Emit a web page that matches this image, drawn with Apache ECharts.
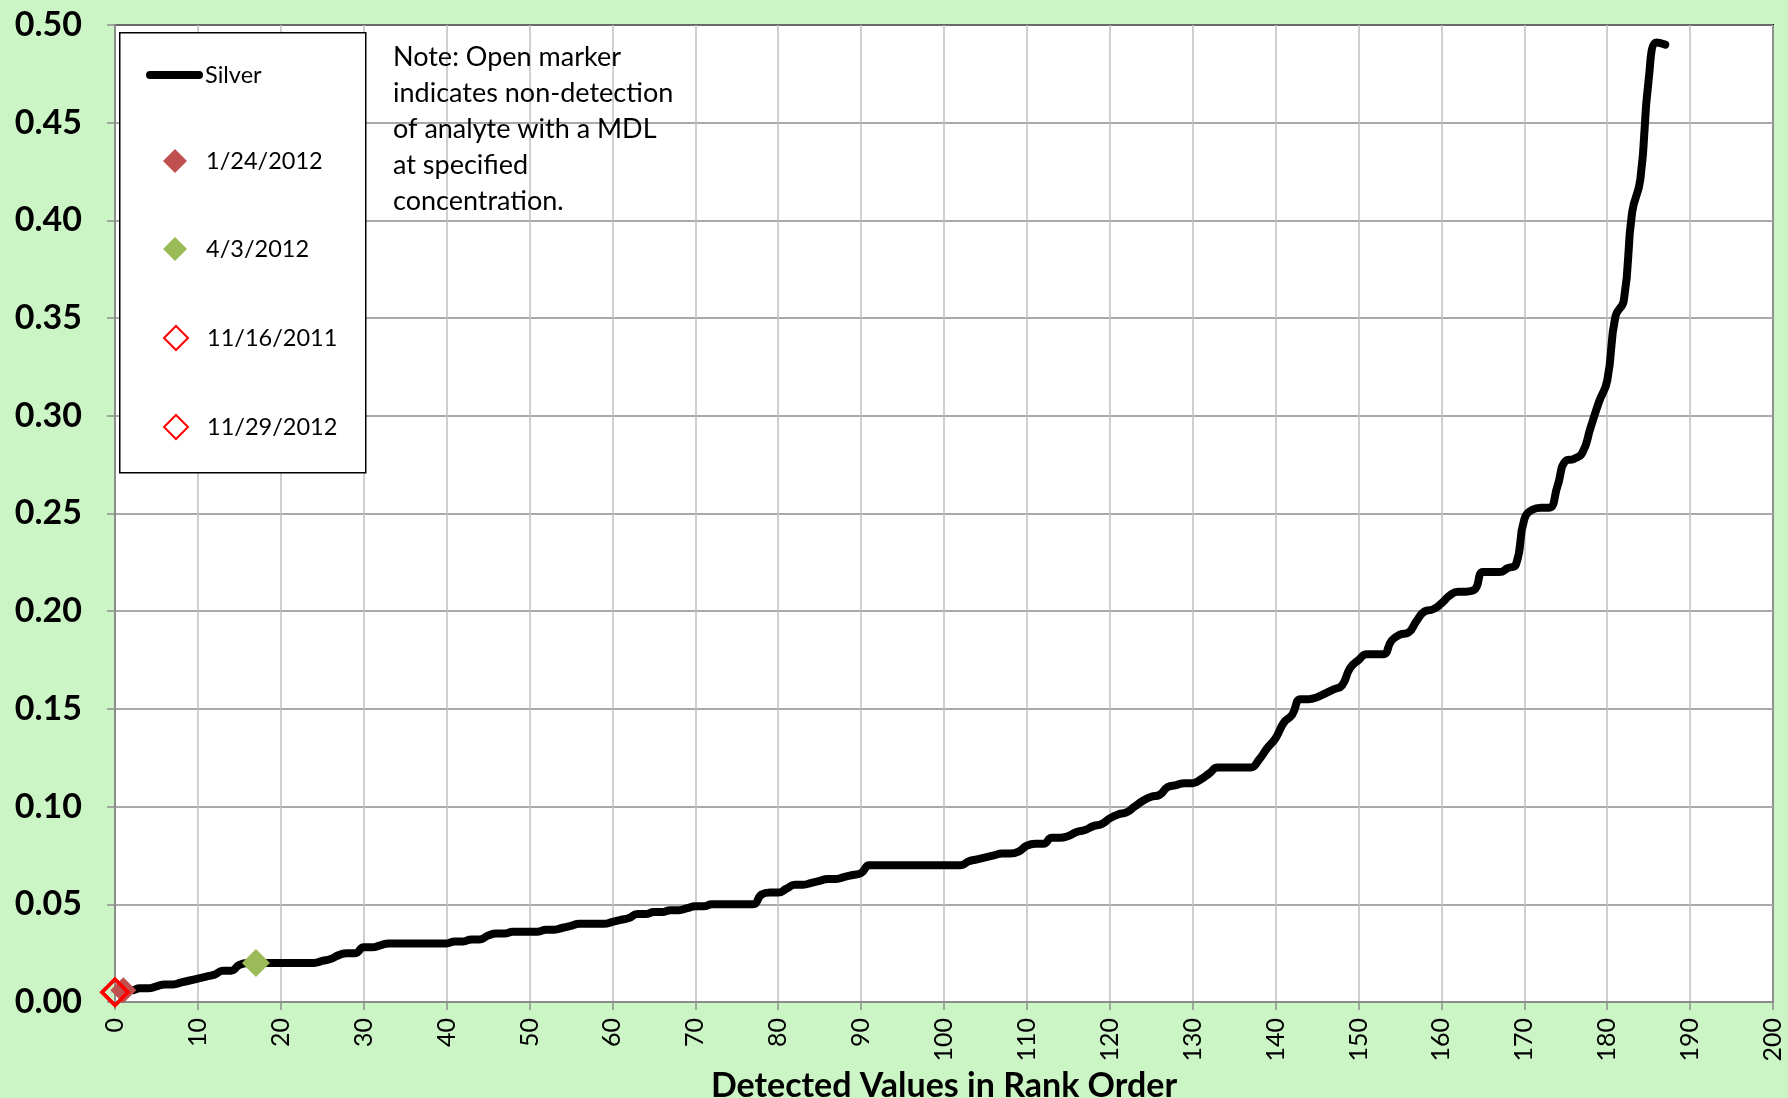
<!DOCTYPE html>
<html>
<head>
<meta charset="utf-8">
<script src="https://cdn.jsdelivr.net/npm/echarts@6/dist/echarts.min.js"></script>
<style>
html,body{margin:0;padding:0;background:#CCF5C6;}
#chart{width:1788px;height:1098px;}
</style>
</head>
<body>
<div id="chart"></div>
<script>
// Silver detected values in rank order (rank 1..187)
const silverValues = [
  0.006,0.006,0.007,0.007,0.008,0.009,0.009,0.010,0.011,0.012,
  0.013,0.014,0.016,0.016,0.019,0.020,0.020,
  0.020,0.020,0.020,0.020,0.020,0.020,0.020,
  0.021,0.022,0.024,0.025,0.025,0.028,0.028,0.029,0.030,
  0.030,0.030,0.030,0.030,0.030,0.030,0.030,
  0.031,0.031,0.032,0.032,0.034,0.035,0.035,0.036,0.036,0.036,
  0.036,0.037,0.037,0.038,0.039,0.040,0.040,0.040,0.040,0.041,
  0.042,0.043,0.045,0.045,0.046,0.046,0.047,0.047,0.048,0.049,
  0.049,0.050,
  0.050,0.050,0.050,0.050,0.050,
  0.055,0.056,0.056,0.058,0.060,0.060,0.061,0.062,0.063,0.063,
  0.064,0.065,0.066,0.070,
  0.070,0.070,0.070,0.070,0.070,0.070,0.070,0.070,0.070,0.070,0.070,
  0.072,0.073,0.074,0.075,0.076,0.076,0.077,0.080,0.081,0.081,
  0.084,0.084,0.085,0.087,0.088,0.090,0.091,0.094,0.096,0.097,
  0.100,0.103,0.105,0.106,0.110,0.111,0.112,0.112,0.114,0.117,
  0.120,0.120,0.120,0.120,0.120,0.124,0.130,0.135,0.143,0.147,
  0.155,0.155,0.156,0.158,0.160,0.162,0.171,0.175,0.178,0.178,
  0.178,0.185,0.188,0.189,0.195,0.200,0.201,0.204,0.208,0.210,
  0.210,0.211,0.220,0.220,0.220,0.222,0.224,0.247,0.252,0.253,
  0.253,0.264,0.277,0.278,0.281,0.294,0.307,0.318,0.351,0.359,
  0.404,0.421,0.472,0.491,0.490
];
const silverRanks = silverValues.map((v, i) => i + 1);

// Individual sampling events [rank, value]
const point_1_24_2012 = [[1, 0.006]];
const point_4_3_2012 = [[17, 0.020]];
const point_11_16_2011 = [[0, 0.005]];
const point_11_29_2012 = [[0, 0.005]];

const seriesNames = ['Silver', '1/24/2012', '4/3/2012', '11/16/2011', '11/29/2012'];
const noteLines = ['Note: Open marker', 'indicates non-detection', 'of analyte with a MDL', 'at specified', 'concentration.'];
const xAxisTitle = 'Detected Values in Rank Order';

const FONT = 'Lato, "Open Sans", "DejaVu Sans", sans-serif';
const chart = echarts.init(document.getElementById('chart'), null, {renderer: 'canvas'});

const legendText = {fontFamily: FONT, fontSize: 23.5, color: '#000', lineHeight: 26};
function diamondLegend(name, top) {
  return {
    data: [{name: name, icon: 'diamond'}],
    left: 163, top: top, orient: 'vertical', padding: 0,
    itemWidth: 24, itemHeight: 24, selectedMode: false,
    textStyle: Object.assign({padding: [0, 0, 0, 14]}, legendText), z: 20
  };
}

const option = {
  backgroundColor: '#CCF5C6',
  animation: false,
  grid: {
    left: 115, right: 15, top: 25, bottom: 96,
    containLabel: false, outerBoundsMode: 'none',
    show: true, backgroundColor: '#ffffff', borderColor: '#000000', borderWidth: 2
  },
  xAxis: {
    type: 'value', min: 0, max: 200, interval: 10,
    name: xAxisTitle, nameLocation: 'middle', nameGap: 57,
    nameTextStyle: {fontFamily: FONT, fontSize: 34, fontWeight: 'bold', color: '#000'},
    axisLine: {show: true, onZero: false, lineStyle: {color: '#8C8C8C', width: 2}},
    axisTick: {show: true, inside: false, length: 8, lineStyle: {color: '#8C8C8C', width: 1.5}},
    axisLabel: {rotate: 90, margin: 16, fontFamily: FONT, fontSize: 25, color: '#000'},
    splitLine: {show: true, lineStyle: {color: '#BFBFBF', width: 1.5}}
  },
  yAxis: {
    type: 'value', min: 0, max: 0.5, interval: 0.05,
    axisLine: {show: true, onZero: false, lineStyle: {color: '#8C8C8C', width: 2}},
    axisTick: {show: true, inside: false, length: 8, lineStyle: {color: '#8C8C8C', width: 1.5}},
    axisLabel: {margin: 33, fontFamily: FONT, fontSize: 34, fontWeight: 'bold', color: '#000',
      formatter: v => v.toFixed(2)},
    splitLine: {show: true, lineStyle: {color: '#8C8C8C', width: 1.5}}
  },
  graphic: [
    {type: 'rect', left: 119, top: 32, z: 10,
      shape: {width: 246, height: 440},
      style: {fill: '#ffffff', stroke: '#000000', lineWidth: 1.5}},
    {type: 'text', left: 393, top: 39, z: 10,
      style: {text: noteLines.join('\n'), font: '27px ' + FONT, fill: '#000', lineHeight: 36}}
  ],
  legend: [
    {
      data: [{name: 'Silver', icon: 'path://M4,0 H53 A4,4 0 0 1 53,8 H4 A4,4 0 0 1 4,0 Z'}],
      left: 146, top: 62, padding: 0, itemWidth: 57, itemHeight: 8, selectedMode: false,
      textStyle: Object.assign({padding: [0, 0, 0, -3]}, legendText), z: 20
    },
    diamondLegend('1/24/2012', 148),
    diamondLegend('4/3/2012', 236),
    diamondLegend('11/16/2011', 325),
    diamondLegend('11/29/2012', 414)
  ],
  series: [
    {
      name: seriesNames[0], type: 'line', smooth: 0.5, showSymbol: false, symbol: 'none',
      data: silverRanks.map((r, i) => [r, silverValues[i]]),
      lineStyle: {color: '#000000', width: 8, cap: 'round', join: 'round'},
      itemStyle: {color: '#000000'}, z: 2
    },
    {
      name: seriesNames[1], type: 'scatter', symbol: 'diamond', symbolSize: 26,
      data: point_1_24_2012, itemStyle: {color: '#C0504D', opacity: 1}, z: 3
    },
    {
      name: seriesNames[2], type: 'scatter', symbol: 'diamond', symbolSize: 28,
      data: point_4_3_2012, itemStyle: {color: '#9BBB59', opacity: 1}, z: 3
    },
    {
      name: seriesNames[3], type: 'scatter', symbol: 'diamond', symbolSize: 26,
      data: point_11_16_2011,
      itemStyle: {color: 'rgba(255,255,255,0)', borderColor: '#FF0000', borderWidth: 3.5, opacity: 1}, z: 4
    },
    {
      name: seriesNames[4], type: 'scatter', symbol: 'diamond', symbolSize: 26,
      data: point_11_29_2012,
      itemStyle: {color: 'rgba(255,255,255,0)', borderColor: '#FF0000', borderWidth: 3.5, opacity: 1}, z: 4
    }
  ]
};
chart.setOption(option);
</script>
</body>
</html>
